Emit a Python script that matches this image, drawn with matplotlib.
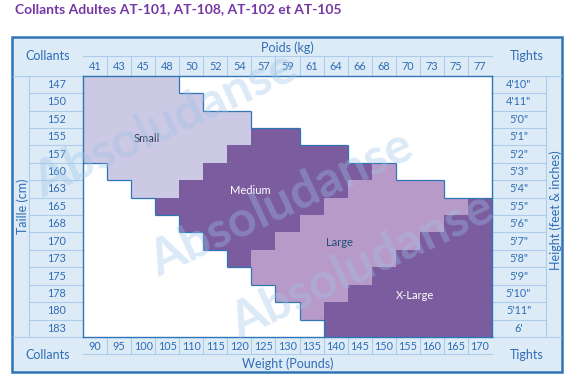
import matplotlib.pyplot as plt
import numpy as np
from matplotlib.colors import ListedColormap
from matplotlib.collections import LineCollection
from matplotlib.patches import Rectangle

plt.rcParams['font.family'] = ['Lato', 'DejaVu Sans']

title = "Collants Adultes AT-101, AT-108, AT-102 et AT-105"

kg = [41, 43, 45, 48, 50, 52, 54, 57, 59, 61, 64, 66, 68, 70, 73, 75, 77]
pounds = [90, 95, 100, 105, 110, 115, 120, 125, 130, 135, 140, 145, 150, 155, 160, 165, 170]
cm = [147, 150, 152, 155, 157, 160, 163, 165, 168, 170, 173, 175, 178, 180, 183]
feet = ["4'10\"", "4'11\"", "5'0\"", "5'1\"", "5'2\"", "5'3\"", "5'4\"", "5'5\"",
        "5'6\"", "5'7\"", "5'8\"", "5'9\"", "5'10\"", "5'11\"", "6'"]

# one string per height row, one char per weight column
# . = none, S = Small, M = Medium, L = Large, X = X-Large
sizes = [
    "SSSS.............",
    "SSSSS............",
    "SSSSSSS..........",
    "SSSSSSSMM........",
    "SSSSSSMMMMM......",
    ".SSSSMMMMMMML....",
    "..SSMMMMMMMLLLL..",
    "...MMMMMMMLLLLLLX",
    "....MMMMMLLLLLLXX",
    ".....MMMLLLLLLXXX",
    "......MLLLLLLXXXX",
    ".......LLLLLXXXXX",
    "........LLLXXXXXX",
    ".........LXXXXXXX",
    "..........XXXXXXX",
]
codes = ".SMLX"
size_names = ["Small", "Medium", "Large", "X-Large"]

blue = '#2E75B6'
txt = '#2F6DB5'
sep = '#ADCBEA'
panel = '#DDEBF7'
cell_colors = ['white', '#CCC9E5', '#7B5C9F', '#B89AC8', '#7B5C9F']

W, H = 581, 389
fig = plt.figure(figsize=(W / 100, H / 100), dpi=100)

# pixel overlay for the frame and static text
ax0 = fig.add_axes([0, 0, 1, 1], zorder=0)
ax0.set_xlim(0, W)
ax0.set_ylim(H, 0)
ax0.axis('off')
ax0.add_patch(Rectangle((12, 36.7), 549.7, 335.6, facecolor=panel, edgecolor=blue, lw=1.8))
ax0.text(15, 9.5, title, fontsize=10, fontweight='bold', color='#7438A4', va='center', ha='left')
ax0.text(48, 56, "Collants", fontsize=9, color=txt, ha='center', va='center')
ax0.text(527, 56, "Tights", fontsize=9, color=txt, ha='center', va='center')
ax0.text(48, 355, "Collants", fontsize=9, color=txt, ha='center', va='center')
ax0.text(527, 355, "Tights", fontsize=9, color=txt, ha='center', va='center')
ax0.text(287.5, 47.5, "Poids (kg)", fontsize=9, color=txt, ha='center', va='center')
ax0.text(287.5, 363.5, "Weight (Pounds)", fontsize=9, color=txt, ha='center', va='center')
ax0.text(22.5, 206, "Taille (cm)", fontsize=9, color=txt, ha='center', va='center', rotation=90)
ax0.text(556, 210, "Height (feet & inches)", fontsize=9, color=txt, ha='center', va='center', rotation=90)

# grid axes: columns = weights, rows = heights
gl, gr, gt, gb = 83, 492, 75.7, 337
ax = fig.add_axes([gl / W, 1 - gb / H, (gr - gl) / W, (gb - gt) / H], zorder=1)
nc, nr = len(kg), len(cm)
grid = np.array([[codes.index(ch) for ch in row] for row in sizes])
ax.pcolormesh(np.arange(nc + 1), np.arange(nr + 1), grid,
              cmap=ListedColormap(cell_colors), vmin=-0.5, vmax=4.5)
ax.set_xlim(0, nc)
ax.set_ylim(nr, 0)
ax.set_xticks([])
ax.set_yticks([])
for s in ax.spines.values():
    s.set_color(blue)
    s.set_linewidth(1.0)
    s.set_zorder(5)

# blue outline between empty cells and sized cells
segs = []
for r in range(nr):
    for c in range(nc):
        if grid[r, c] != 0:
            continue
        if c + 1 < nc and grid[r, c + 1] != 0:
            segs.append([(c + 1, r), (c + 1, r + 1)])
        if c - 1 >= 0 and grid[r, c - 1] != 0:
            segs.append([(c, r), (c, r + 1)])
        if r + 1 < nr and grid[r + 1, c] != 0:
            segs.append([(c, r + 1), (c + 1, r + 1)])
        if r - 1 >= 0 and grid[r - 1, c] != 0:
            segs.append([(c, r), (c + 1, r)])
ax.add_collection(LineCollection(segs, colors=blue, linewidths=0.9, zorder=4))

# size names
ax.text(2.66, 3.6, size_names[0], fontsize=8, color='#2B3550', ha='center', va='center')
ax.text(6.94, 6.6, size_names[1], fontsize=8, color='white', ha='center', va='center')
ax.text(10.64, 9.6, size_names[2], fontsize=8, color='#1F4E79', ha='center', va='center')
ax.text(13.8, 12.6, size_names[3], fontsize=8, color='white', ha='center', va='center')

# pixel -> grid data helpers for the surrounding header cells
cw = (gr - gl) / nc
rh = (gb - gt) / nr
def X(px):
    return (px - gl) / cw
def Y(py):
    return (py - gt) / rh

kw = dict(clip_on=False, color=sep, lw=0.8, zorder=0)
for i, v in enumerate(kg):
    ax.text(i + 0.5, Y(66.7), str(v), fontsize=7.8, color=txt, ha='center', va='center', clip_on=False)
for i, v in enumerate(pounds):
    ax.text(i + 0.5, Y(346.5), str(v), fontsize=7.8, color=txt, ha='center', va='center', clip_on=False)
for i, v in enumerate(cm):
    ax.text(X(56.5), i + 0.5, str(v), fontsize=7.8, color=txt, ha='center', va='center', clip_on=False)
for i, v in enumerate(feet):
    ax.text(X(518.5), i + 0.5, v, fontsize=7.8, color=txt, ha='center', va='center', clip_on=False)

for i in range(1, nc):
    ax.plot([i, i], [Y(56), 0], **kw)
    ax.plot([i, i], [nr, Y(354)], **kw)
ax.plot([0, nc], [Y(56), Y(56)], **kw)
ax.plot([0, nc], [Y(354), Y(354)], **kw)
ax.plot([X(29.3), X(29.3)], [0, nr], **kw)
ax.plot([X(545.7), X(545.7)], [0, nr], **kw)
for i in range(1, nr):
    ax.plot([X(29.3), 0], [i, i], **kw)
    ax.plot([nc, X(545.7)], [i, i], **kw)
for yy in (0, nr):
    ax.plot([X(13), 0], [yy, yy], **kw)
    ax.plot([nc, X(561)], [yy, yy], **kw)

# watermark on top
ax2 = fig.add_axes([0, 0, 1, 1], zorder=5)
ax2.set_xlim(0, W)
ax2.set_ylim(H, 0)
ax2.axis('off')
ax2.patch.set_alpha(0)
for cx, cy in [(165, 125), (281, 204), (362, 266)]:
    ax2.text(cx, cy, "Absoludanse", fontsize=36, fontweight='bold', color='#9DC3E6', alpha=0.36,
             rotation=25, ha='center', va='center', rotation_mode='anchor')

fig.savefig('out.png', dpi=100)
